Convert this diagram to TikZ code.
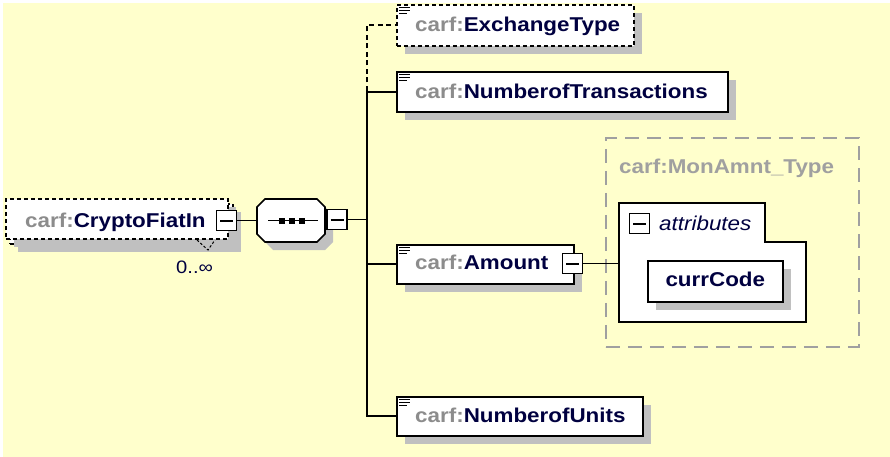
\documentclass[tikz,border=0pt]{standalone}
\usepackage{fontspec}
\setmainfont[FakeStretch=1.12]{Liberation Sans}
\usetikzlibrary{shadows}
\definecolor{bg}{HTML}{FFFFCC}
\definecolor{shadowc}{HTML}{C0C0C0}
\definecolor{pref}{HTML}{8C8C8C}
\definecolor{nm}{HTML}{000040}
\definecolor{tgray}{HTML}{A0A0A0}
\begin{document}
\begin{tikzpicture}[x=1pt,y=-1pt,
  shad/.style={drop shadow={shadow xshift=8pt,shadow yshift=-8pt,fill=shadowc,opacity=1}},
  elem/.style={draw=black,line width=1.6pt,fill=white,rectangle,inner sep=0pt,anchor=north west,shad},
  optelem/.style={elem,dash pattern=on 4pt off 3pt},
  conn/.style={line width=1.8pt,black},
  dconn/.style={conn,dash pattern=on 5pt off 3.5pt},
  lbl/.style={anchor=base west,inner sep=0pt,font=\fontsize{20}{24}\selectfont\bfseries},
  minusbox/.style={draw=black,fill=white,line width=1.6pt,minimum size=20pt,inner sep=0pt,
    path picture={\draw[line width=2pt] ([xshift=-6.5pt]path picture bounding box.center) -- ([xshift=6.5pt]path picture bounding box.center);}},
  docicon/.style={line width=1.2pt,black},
  typebox/.style={draw=tgray,line width=1.8pt,dash pattern=on 14pt off 8pt,rectangle,inner sep=0pt,anchor=north west}
]
\useasboundingbox (0,0) rectangle (890,457);
\fill[white] (0,0) rectangle (890,457);
\fill[bg] (3,3) rectangle (890,457);

% root element (multiple occurrence, optional)
\node[optelem,minimum width=223pt,minimum height=40pt] (cfb) at (9,203) {};
\node[optelem,minimum width=222pt,minimum height=40pt,drop shadow={opacity=0}] (cf) at (5,198) {};
\draw[line width=1pt,dash pattern=on 2.5pt off 2pt] (197,240) -- (208,250) -- (215,240);
\node[lbl] (cft) at (25,227) {\textcolor{pref}{carf:}\textcolor{nm}{CryptoFiatIn}};
\node[minusbox] (cfm) at (226.5,220.5) {};
\node[anchor=base west,inner sep=0pt,font=\fontsize{18}{20}\selectfont,text=nm] (occ) at (176,273) {0..∞};

% sequence compositor
\node[rectangle,inner sep=0pt,minimum width=68pt,minimum height=43pt] (seq) at (291,220.5) {};
\fill[shadowc,shift={(8,8)}] (265,199) -- (317,199) -- (325,207) -- (325,234) -- (317,242) -- (265,242) -- (257,234) -- (257,207) -- cycle;
\draw[line width=1.6pt,fill=white] (265,199) -- (317,199) -- (325,207) -- (325,234) -- (317,242) -- (265,242) -- (257,234) -- (257,207) -- cycle;
\draw[line width=1.8pt] ([xshift=-23pt]seq.center) -- ([xshift=27pt]seq.center);
\foreach \dx in {-9,1,11} \fill ([xshift=\dx pt]seq.center) ++(-3,-3) rectangle ++(6,6);
\node[minusbox] (seqm) at (337,219.5) {};
\draw[conn] (cfm.east) -- (seq.west);

% bus
\coordinate (busT) at (367,91);
\coordinate (busM) at (367,219.5);
\draw[conn] (seqm.east) -- (busM);

% children
\node[optelem,minimum width=237pt,minimum height=41pt] (xt) at (396,4) {};
\node[elem,minimum width=331pt,minimum height=40pt] (ntr) at (396,71) {};
\node[elem,minimum width=177pt,minimum height=39pt] (am) at (396,244) {};
\node[elem,minimum width=246pt,minimum height=39pt] (nu) at (396,396) {};

\foreach \n in {xt,ntr,am,nu}{
  \draw[docicon] ([shift={(3,3.5)}]\n.north west) -- ++(11,0);
  \draw[docicon] ([shift={(3,6.5)}]\n.north west) -- ++(11,0);
  \draw[docicon] ([shift={(3,9.5)}]\n.north west) -- ++(8,0);
}

\node[lbl] (xtt) at (415,32) {\textcolor{pref}{carf:}\textcolor{nm}{ExchangeType}};
\node[lbl] (ntrt) at (415,98.5) {\textcolor{pref}{carf:}\textcolor{nm}{NumberofTransactions}};
\node[lbl] (amt) at (415,269.5) {\textcolor{pref}{carf:}\textcolor{nm}{Amount}};
\node[lbl] (nut) at (415,422.5) {\textcolor{pref}{carf:}\textcolor{nm}{NumberofUnits}};

\draw[dconn] (busT) |- (xt.west);
\draw[conn] (ntr.west) -| (busT);
\draw[conn] (busT) |- (nu.west);
\draw[conn] (am.west) -- (am.west -| busT);

% Amount type
\node[minusbox] (amm) at (572.5,263.5) {};
\node[typebox,minimum width=253pt,minimum height=209pt] (mt) at (605,137) {};
\node[lbl,text=tgray] (mtt) at (619,173) {carf:MonAmnt\_Type};
\draw[line width=1.6pt,fill=white] (619,203) -- (765,203) -- (765,242) -- (806,242) -- (806,322) -- (619,322) -- cycle;
\coordinate (attrW) at (619,263.5);
\draw[conn] (amm.east) -- (attrW);
\node[minusbox] (atm) at (639.5,223.5) {};
\node[anchor=base west,inner sep=0pt,font=\fontsize{20}{24}\selectfont\itshape,text=nm] (att) at (659,230) {attributes};
\node[elem,minimum width=135pt,minimum height=41pt] (cc) at (647,260) {};
\node[lbl,anchor=base,text=nm] (cct) at (cc.center |- 0,286.5) {currCode};
\end{tikzpicture}
\end{document}
